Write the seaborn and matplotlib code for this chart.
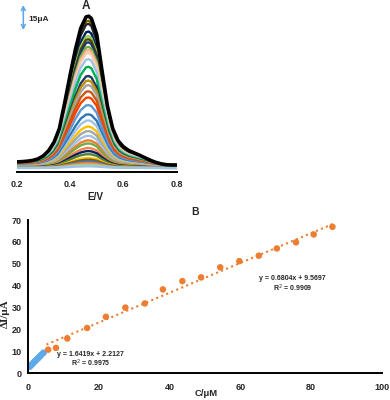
import matplotlib
matplotlib.use("Agg")
import matplotlib.pyplot as plt
import seaborn as sns
import numpy as np
import pandas as pd

# ---- panel A: voltammograms (shape, peak currents in uA) ----
potential = [0.20, 0.22, 0.24, 0.26, 0.28, 0.30, 0.32, 0.34, 0.36, 0.38, 0.40,
             0.42, 0.44, 0.46, 0.47, 0.48, 0.50, 0.52, 0.54, 0.56, 0.58, 0.60,
             0.62, 0.64, 0.66, 0.68, 0.70, 0.72, 0.74, 0.76, 0.78, 0.80]
peak_shape = [0.040, 0.042, 0.045, 0.050, 0.060, 0.080, 0.115, 0.170, 0.260, 0.430, 0.610,
              0.780, 0.920, 0.995, 1.000, 0.985, 0.880, 0.640, 0.410, 0.260, 0.180, 0.140,
              0.115, 0.100, 0.085, 0.068, 0.052, 0.038, 0.028, 0.022, 0.020, 0.020]
peak_currents = [99, 96, 94, 89, 86, 84, 82, 79, 77, 75, 71, 66, 60, 57, 54, 50, 46,
                 41, 35, 31, 27, 24, 21, 18, 16, 13, 11, 9, 6.5, 5.4, 4.3, 3.3, 2.2, 1.1]
curve_colors = ['#000000', '#7F6000', '#262626', '#002060', '#92D050', '#5A4500',
                '#1F3864', '#70AD47', '#F4B183', '#F8CBAD', '#9DC3E6', '#00B050',
                '#203864', '#BF9000', '#A5A5A5', '#C55A11', '#FF4000', '#5B9BD5',
                '#2E75B6', '#9DC3E6', '#FFC000', '#A5A5A5', '#9DC3E6', '#ED7D31',
                '#70AD47', '#FF7F50', '#002060', '#548235', '#FFC000', '#7F6000',
                '#4472C4', '#ED7D31', '#A9D18E', '#9DC3E6']

# ---- panel B: calibration ----
conc_low = [0.5, 0.8, 1.0, 1.2, 1.5, 1.7, 2.0, 2.2, 2.5, 2.8, 3.0, 3.3, 3.6, 4.0, 4.4]
di_low = [3.0, 3.6, 3.9, 4.2, 4.7, 5.1, 5.6, 5.8, 6.4, 6.8, 7.2, 7.6, 8.2, 8.8, 9.4]
conc_high = [5.7, 7.9, 11.1, 16.7, 22.0, 27.5, 33.0, 38.1, 43.6, 48.9, 54.3,
             59.7, 65.2, 70.3, 75.7, 80.7, 86.0]
di_high = [10.8, 11.6, 15.9, 20.7, 25.8, 30.0, 31.9, 38.3, 42.1, 43.8, 48.4,
           51.2, 53.7, 57.0, 59.8, 63.4, 66.9]
fit_low = (1.6419, 2.2127, 0.9975)
fit_high = (0.6804, 9.5697, 0.9909)

sns.set_style("white")
plt.rcParams['font.family'] = ['Liberation Sans', 'DejaVu Sans']

W, H = 390, 400
fig = plt.figure(figsize=(3.9, 4.0), dpi=100)


def fx(px):
    return px / W


def fy(py):
    return 1 - py / H


# panel A
axA = fig.add_axes([fx(16.7), fy(172), 160 / W, 167 / H])
rows = []
for i, ip in enumerate(peak_currents):
    for e, s in zip(potential, peak_shape):
        rows.append({'E': e, 'I': ip * s, 'curve': i})
cv = pd.DataFrame(rows)
sns.lineplot(data=cv[cv.curve > 0], x='E', y='I', hue='curve',
             palette=curve_colors[1:len(peak_currents)], estimator=None,
             linewidth=1.7, legend=False, ax=axA)
sns.lineplot(data=cv[cv.curve == 0], x='E', y='I', color='black',
             estimator=None, linewidth=2.6, legend=False, ax=axA)
axA.set_xlim(0.2, 0.8)
axA.set_ylim(-2.6, 106.3)
axA.set_xticks([0.2, 0.4, 0.6, 0.8])
axA.set_xticklabels(['0.2', '0.4', '0.6', '0.8'], fontsize=6.5, fontweight='bold')
axA.set_yticks([])
axA.tick_params(axis='x', length=0, pad=6)
for sp in ['top', 'left', 'right']:
    axA.spines[sp].set_visible(False)
axA.spines['bottom'].set_color('black')
axA.spines['bottom'].set_linewidth(1.4)
axA.set_xlabel('E/V', fontsize=7.2, fontweight='bold', va='center')
axA.xaxis.set_label_coords(0.49, -25 / 167)
axA.set_ylabel('')
fig.text(fx(86), fy(6), 'A', fontsize=8.5, fontweight='bold', ha='center', va='center')
fig.text(fx(28), fy(19.5), '15μA', fontsize=6, fontweight='bold', ha='left', va='center')
axA.annotate('', xy=(fx(23.3), fy(5)), xytext=(fx(23.3), fy(30)),
             xycoords='figure fraction', textcoords='figure fraction',
             arrowprops=dict(arrowstyle='<->', color='#5BA8E6', lw=1.1,
                             mutation_scale=7, shrinkA=0, shrinkB=0))

# panel B
axB = fig.add_axes([fx(28), fy(373.3), 354 / W, 153.3 / H])
xh = np.array([5.2, max(conc_high)])
axB.plot(xh, fit_high[0] * xh + fit_high[1], color='#ED7D31', lw=1.5,
         linestyle=(0, (1, 1.6)))
sns.scatterplot(x=conc_low, y=di_low, color='#5DA9E9', s=22, edgecolor='none', ax=axB)
sns.scatterplot(x=conc_high, y=di_high, color='#ED7D31', s=22, edgecolor='none', ax=axB)
axB.set_xlim(0, 100)
axB.set_ylim(0, 70)
axB.set_xticks(range(0, 101, 20))
axB.set_yticks(range(0, 71, 10))
axB.set_xticklabels([str(v) for v in range(0, 101, 20)], fontsize=6.5, fontweight='bold')
axB.set_yticklabels([str(v) for v in range(0, 71, 10)], fontsize=6.5, fontweight='bold')
axB.tick_params(axis='x', length=0, pad=7)
axB.tick_params(axis='y', length=0, pad=4.5)
for sp in ['top', 'right']:
    axB.spines[sp].set_visible(False)
for sp in ['left', 'bottom']:
    axB.spines[sp].set_color('black')
    axB.spines[sp].set_linewidth(1.4)
axB.set_xlabel('C/μM', fontsize=6.8, fontweight='bold', va='center')
axB.xaxis.set_label_coords(0.503, -0.13)
axB.set_ylabel('ΔI/μA', fontsize=8, fontweight='bold', family='Liberation Serif',
               va='center')
axB.yaxis.set_label_coords(-0.064, 0.39)
fig.text(fx(195), fy(211.5), 'B', fontsize=7.5, fontweight='bold', ha='center', va='center')

fig.text(fx(90), fy(354.3), 'y = %.4fx + %.4f' % fit_low[:2], fontsize=5,
         fontweight='bold', ha='center', va='center')
fig.text(fx(91), fy(363.7), 'R$^2$ = %.4f' % fit_low[2], fontsize=5,
         fontweight='bold', ha='center', va='center')
fig.text(fx(292.5), fy(279), 'y = %.4fx + %.4f' % fit_high[:2], fontsize=5,
         fontweight='bold', ha='center', va='center')
fig.text(fx(293), fy(288.7), 'R$^2$ = %.4f' % fit_high[2], fontsize=5,
         fontweight='bold', ha='center', va='center')

fig.savefig('out.png', dpi=100)
